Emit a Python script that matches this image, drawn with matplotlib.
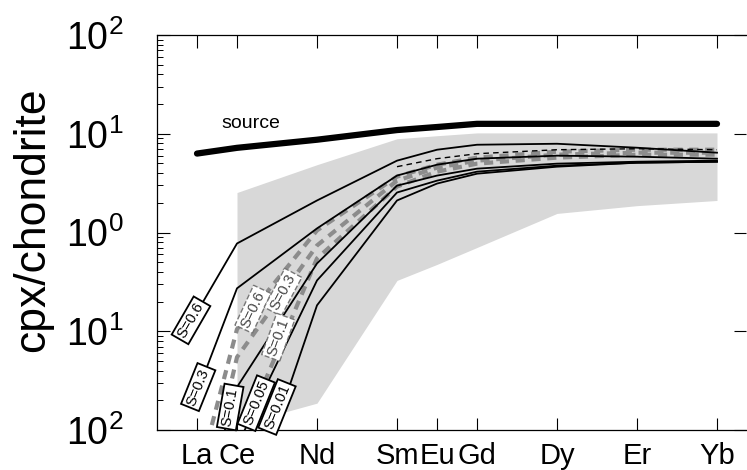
import numpy as np
import matplotlib
matplotlib.use("Agg")
import matplotlib.pyplot as plt
from matplotlib.ticker import LogLocator, NullFormatter

plt.rcParams['font.family'] = ['Liberation Sans', 'DejaVu Sans']
plt.rcParams['mathtext.fontset'] = 'custom'
plt.rcParams['mathtext.rm'] = 'Liberation Sans'

# REE plotted by atomic number
elements = ['La', 'Ce', 'Nd', 'Sm', 'Eu', 'Gd', 'Dy', 'Er', 'Yb']
atomic_no = [57, 58, 60, 62, 63, 64, 66, 68, 70]

source = [6.3, 7.2, 8.7, 10.9, 11.7, 12.6, 12.6, 12.6, 12.6]

# solid black model curves (cpx/chondrite)
s060 = [0.156, 0.774, 2.11, 5.34, 6.89, 7.74, 7.92, 7.22, 6.43]
s030 = [0.0237, 0.272, 1.10, 3.77, 4.86, 5.59, 6.0, 5.86, 5.59]
s010 = [0.001, 0.0272, 0.486, 2.98, 3.77, 4.43, 4.98, 5.21, 5.34]
s005 = [0.0003, 0.00689, 0.327, 2.54, 3.35, 4.13, 4.75, 5.09, 5.21]
s001 = [0.00003, 0.00077, 0.183, 2.11, 3.13, 3.94, 4.64, 5.09, 5.21]

# grey dashed model curves
g060 = [0.003, 0.105, 1.05, 3.68, 4.86, 5.73, 6.58, 6.89, 6.89]
g030 = [0.001, 0.0546, 0.739, 3.35, 4.54, 5.34, 6.14, 6.43, 6.43]
g010 = [0.0001, 0.00673, 0.546, 2.92, 4.13, 4.98, 5.73, 6.14, 6.14]

# thin black dashed curve (Sm..Yb)
dash_black = [4.64, 5.59, 6.28, 6.89, 7.05, 6.89]

# shaded field of measured cpx (Ce..Yb)
field_upper = [2.54, 4.86, 8.9, 9.55, 10.2, 10.2, 10.2, 10.2]
field_lower = [0.0112, 0.0187, 0.327, 0.475, 0.705, 1.56, 1.87, 2.11]

fig = plt.figure(figsize=(7.47, 4.70), dpi=100)
ax = fig.add_axes([157 / 747, 1 - 430 / 470, 589 / 747, 395 / 470])

x = np.array(atomic_no)

ax.fill_between(x[1:], field_lower, field_upper, color='#d8d8d8', lw=0, zorder=1)

for g in (g060, g030, g010):
    ax.plot(x, g, color='#8c8c8c', lw=3, ls=(0, (2.2, 1.6)), zorder=2)
ax.plot(x[3:], dash_black, color='black', lw=1.0, ls=(0, (4, 3)), zorder=2.5)

for s in (s060, s030, s010, s005, s001):
    ax.plot(x, s, color='black', lw=1.3, zorder=3)

ax.plot(x, source, color='black', lw=4.5, solid_capstyle='round', zorder=4)
ax.text(58.35, 12.6, 'source', fontsize=14, ha='center', va='center')

black_box = dict(boxstyle='square,pad=0.18', fc='white', ec='black', lw=1.3)
grey_box = dict(boxstyle='square,pad=0.18', fc='white', ec='#777777', lw=1.0, ls='--')
labels_black = [('S=0.6', 56.85, 0.129, 60), ('S=0.3', 57.03, 0.0272, 68),
                ('S=0.1', 57.83, 0.0171, 80), ('S=0.05', 58.48, 0.0187, 68),
                ('S=0.01', 59.0, 0.0171, 68)]
labels_grey = [('S=0.6', 58.4, 0.167, 65), ('S=0.3', 59.15, 0.248, 62),
               ('S=0.1', 59.03, 0.087, 70)]
for t, xx, yy, r in labels_black:
    ax.text(xx, yy, t, fontsize=10.5, rotation=r, ha='center', va='center',
            rotation_mode='anchor', bbox=black_box, zorder=6)
for t, xx, yy, r in labels_grey:
    ax.text(xx, yy, t, fontsize=10.5, rotation=r, ha='center', va='center', color='#444444',
            rotation_mode='anchor', bbox=grey_box, zorder=5)

ax.set_yscale('log')
ax.set_ylim(1e-2, 1e2)
ax.set_xlim(56.0, 70.725)

ax.set_xticks(atomic_no)
ax.set_xticklabels(elements, fontsize=21)
ax.tick_params(axis='x', which='both', direction='in', top=True, length=9, width=0.8, pad=9)

ax.set_yticks([1e-2, 1e-1, 1e0, 1e1, 1e2])
ax.set_yticklabels([r'$\mathregular{10^2}$', r'$\mathregular{10^1}$', r'$\mathregular{10^0}$',
                    r'$\mathregular{10^1}$', r'$\mathregular{10^2}$'], fontsize=27)
ax.yaxis.set_minor_locator(LogLocator(base=10, subs=np.arange(2, 10)))
ax.yaxis.set_minor_formatter(NullFormatter())
ax.tick_params(axis='y', which='major', direction='in', length=9, width=0.8, pad=24)
ax.tick_params(axis='y', which='minor', direction='in', length=4.5, width=0.7)
ax.tick_params(axis='y', which='major', right=True)
ax.tick_params(axis='y', which='minor', right=False)

ax.spines['right'].set_visible(False)
for sp in ('left', 'bottom', 'top'):
    ax.spines[sp].set_linewidth(0.9)

fig.text(33 / 747, 1 - 220 / 470, 'cpx/chondrite', rotation=90, fontsize=32,
         ha='center', va='center')

fig.savefig('out.png', dpi=100)
